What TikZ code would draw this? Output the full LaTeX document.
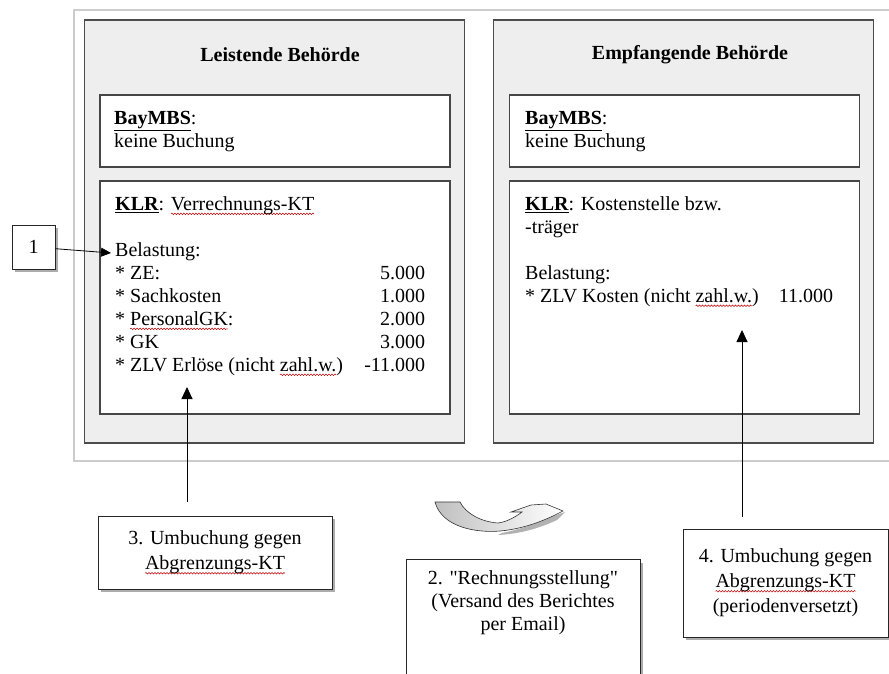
\documentclass[tikz,border=0pt]{standalone}
\usepackage{fontspec}
\setmainfont{Liberation Serif}[Ligatures=TeXOff]
\usetikzlibrary{arrows.meta,shadows,decorations.pathmorphing}
% red spell-check wave under a word
\newsavebox\spellbox
\newcommand\spellmark[1]{\sbox\spellbox{#1}%
    \rlap{\tikz[overlay, baseline=0pt]\draw[red!75!black, line width=0.5pt, decorate,
          decoration={snake, amplitude=0.8pt, segment length=3pt}]
        (0pt,-3.5pt) -- (\wd\spellbox,-3.5pt);}\usebox\spellbox}

\begin{document}
\begin{tikzpicture}[
        x=1pt, y=-1pt,
        txt/.style    ={inner sep=0pt, font=\fontsize{20}{23}\selectfont},
        panel/.style  ={draw=gray!60!black, line width=1.5pt, fill=gray!13,
                        minimum width=380pt, minimum height=423pt},
        inbox/.style  ={draw=gray!55!black, line width=1.2pt, fill=white, minimum width=350pt},
        callout/.style={draw=black!85, line width=1pt, fill=white, align=center,
                        font=\fontsize{20}{25}\selectfont,
                        drop shadow={shadow xshift=3pt, shadow yshift=-3pt, fill=gray!65, opacity=1}},
        arr/.style    ={-{Triangle[length=12pt, width=11pt]}, line width=0.9pt},
    ]
    \useasboundingbox (0,0) rectangle (889,674);

    %% outer frame
    \draw[gray!40, line width=1.2pt] (74,10) rectangle (900,461);

    %% Panels
    \node[panel] (leist) at (274.5, 231.5) {};
    \node[panel] (empf)  at (683.5, 231.5) {};
    \node[txt, font=\fontsize{20}{23}\selectfont\bfseries] (leisttitle) at (280, 55) {Leistende Behörde};
    \node[txt, font=\fontsize{20}{23}\selectfont\bfseries] (empftitle)  at (690, 55) {Empfangende Behörde};

    %% BayMBS boxes
    \node[inbox, minimum height=72pt] (bayL) at (275, 131) {};
    \node[inbox, minimum height=72pt] (bayR) at (684.5, 131) {};
    \node[txt, anchor=north west] (bayLtxt) at (114, 108)
        {\begin{tabular}{@{}l@{}}\underline{\textbf{BayMBS}}:\\keine Buchung\end{tabular}};
    \node[txt, anchor=north west] (bayRtxt) at (525, 108)
        {\begin{tabular}{@{}l@{}}\underline{\textbf{BayMBS}}:\\keine Buchung\end{tabular}};

    %% KLR boxes
    \node[inbox, minimum height=233pt] (klrL) at (275, 297.5) {};
    \node[inbox, minimum height=233pt] (klrR) at (684.5, 297.5) {};
    \node[txt, anchor=north west] (klrLtxt) at (115, 194) {%
        \begin{tabular*}{310pt}{@{}l@{\extracolsep{\fill}}r@{}}
        \underline{\textbf{KLR}}: \spellmark{Verrechnungs-KT} & \\
        & \\
        Belastung: & \\
        {*} ZE: & 5.000\\
        {*} Sachkosten & 1.000\\
        {*} \spellmark{PersonalGK}: & 2.000\\
        {*} GK & 3.000\\
        {*} ZLV Erlöse (nicht \spellmark{zahl.w.}) & -11.000
        \end{tabular*}};
    \node[txt, anchor=north west] (klrRtxt) at (525, 194) {%
        \begin{tabular*}{308pt}{@{}l@{\extracolsep{\fill}}r@{}}
        \underline{\textbf{KLR}}: Kostenstelle bzw. & \\
        -träger & \\
        & \\
        Belastung: & \\
        {*} ZLV Kosten (nicht \spellmark{zahl.w.}) & 11.000
        \end{tabular*}};

    %% Callouts
    \node[callout, minimum width=43pt, minimum height=44pt] (num1) at (33.5, 247) {1};
    \node[callout, minimum width=234pt, minimum height=73pt] (umb3) at (215, 552.5)
        {3. Umbuchung gegen\\\spellmark{Abgrenzungs-KT}};
    \node[callout, minimum width=205pt, minimum height=108pt] (umb4) at (785.5, 583)
        {4. Umbuchung gegen\\\spellmark{Abgrenzungs-KT}\\(periodenversetzt)};
    \node[callout, anchor=north, minimum width=234pt, minimum height=140pt] (rech) at (523, 559) {};
    \node[anchor=north, align=center, inner sep=0pt, font=\fontsize{20}{23}\selectfont]
        (rechtxt) at (523, 570) {2. "Rechnungsstellung"\\(Versand des Berichtes\\per Email)};

    %% Arrow targets
    \coordinate (belast) at (111, 253);
    \coordinate (tipL) at (187, 387);
    \coordinate (tipR) at (742, 330);

    \draw[arr, -{Triangle[length=10pt, width=9pt]}, line width=0.8pt] (num1) -- (belast);
    \draw[arr] ([yshift=14pt]umb3.north -| tipL) -- (tipL);
    \draw[arr] ([yshift=12pt]umb4.north -| tipR) -- (tipR);

    %% curved transfer arrow
    \fill[gray!60] ([xshift=2pt, yshift=-2pt]500,531) .. controls (522,529) and (540,522) .. (553,516)
        -- (565,512) -- (557,520) .. controls (540,528) and (520,534) .. (498,535) -- cycle;
    \draw[black!80, line width=0.6pt, left color=gray!50, right color=white]
        (435,502) .. controls (442,528) and (478,533) .. (500,531)
        .. controls (522,529) and (540,522) .. (553,516)
        -- (563,511) -- (546,504) -- (531,505) -- (511,512) -- (522,512)
        .. controls (514,518) and (506,522) .. (498,523)
        .. controls (482,522) and (466,514) .. (460,502) -- cycle;
\end{tikzpicture}
\end{document}
